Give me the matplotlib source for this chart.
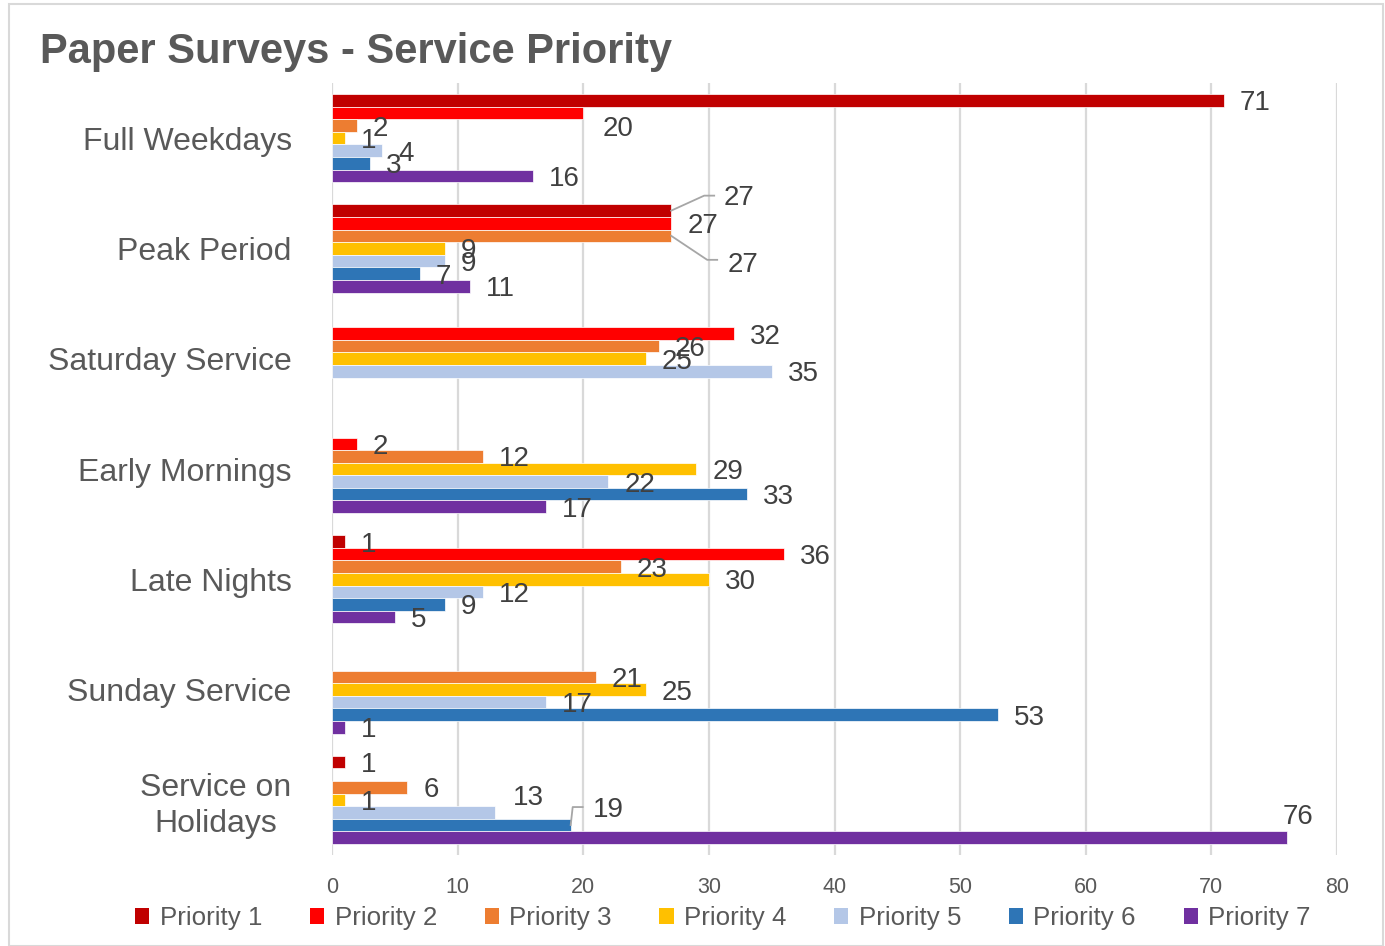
import matplotlib
matplotlib.use("Agg")
import matplotlib.pyplot as plt
from matplotlib.patches import Patch, Rectangle
from matplotlib.lines import Line2D
from matplotlib.transforms import IdentityTransform

# --- data -------------------------------------------------------------
categories = ["Full Weekdays", "Peak Period", "Saturday Service",
              "Early Mornings", "Late Nights", "Sunday Service",
              "Service on\nHolidays"]
series_names = ["Priority 1", "Priority 2", "Priority 3", "Priority 4",
                "Priority 5", "Priority 6", "Priority 7"]
priority_1 = [71, 27, 0, 0, 1, 0, 1]
priority_2 = [20, 27, 32, 2, 36, 0, 0]
priority_3 = [2, 27, 26, 12, 23, 21, 6]
priority_4 = [1, 9, 25, 29, 30, 25, 1]
priority_5 = [4, 9, 35, 22, 12, 17, 13]
priority_6 = [3, 7, 0, 33, 9, 53, 19]
priority_7 = [16, 11, 0, 17, 5, 1, 76]
x_ticks = [0, 10, 20, 30, 40, 50, 60, 70, 80]

series = [priority_1, priority_2, priority_3, priority_4,
          priority_5, priority_6, priority_7]

# --- style ------------------------------------------------------------
colors = ["#C00000", "#FF0000", "#ED7D31", "#FFC000",
          "#B4C7E7", "#2E75B6", "#7030A0"]
FONT = "Liberation Sans"
plt.rcParams["font.family"] = [FONT, "DejaVu Sans"]
TEXT_GRAY = "#595959"
LABEL_GRAY = "#404040"
GRID_GRAY = "#D9D9D9"

# label placement tweaks (pixels): left-edge gap from bar end, vertical shift (down +)
label_shift = {
    (0, 1): (19, 13),
    (1, 0): (52, -16),
    (1, 2): (56, 26),
    (6, 4): (18, -17),
    (6, 5): (22, -18),
    (6, 6): (-4, -24),
}
# leader lines for displaced labels (pixel offsets from bar end, down +)
leaders = {
    (1, 0): [(0, 0), (33, -15), (43, -15)],
    (1, 2): [(0, 0), (36, 24), (46, 24)],
    (6, 5): [(0, 0), (2, -18), (12, -18)],
}

W, H, DPI = 1385, 946, 100
fig = plt.figure(figsize=(W / DPI, H / DPI), dpi=DPI)
fig.patch.set_facecolor("white")

# chart border
fig.add_artist(Rectangle((9 / W, 0.0), (1383 - 9) / W, 1 - 4 / H,
                         transform=fig.transFigure, fill=False,
                         edgecolor=GRID_GRAY, linewidth=1.5))

ax = fig.add_axes([332 / W, 1 - 855 / H, (1337 - 332) / W, (855 - 83) / H])

n = len(series)
bar_h = 0.1142
for j, vals in enumerate(series):
    for i, v in enumerate(vals):
        if v == 0:
            continue
        y = i + (j - (n - 1) / 2) * bar_h
        ax.barh(y, v, height=bar_h, color=colors[j],
                edgecolor="white", linewidth=0.5, zorder=3)

ax.set_xlim(0, 80)
ax.set_ylim(len(categories) - 0.5, -0.5)
ax.set_xticks(x_ticks)
ax.set_xticklabels([str(t) for t in x_ticks])
ax.set_yticks(range(len(categories)))
ax.set_yticklabels(categories, fontsize=23, color=TEXT_GRAY,
                   multialignment="center", linespacing=1.25)
ax.tick_params(axis="x", length=0, pad=16, labelsize=15.5, labelcolor=TEXT_GRAY)
ax.tick_params(axis="y", length=0, pad=29)
for s in ax.spines.values():
    s.set_visible(False)
ax.grid(axis="x", color=GRID_GRAY, linewidth=1.6, zorder=0)
ax.grid(axis="y", visible=False)
ax.set_axisbelow(True)

# value labels
for j, vals in enumerate(series):
    for i, v in enumerate(vals):
        if v == 0:
            continue
        y = i + (j - (n - 1) / 2) * bar_h
        dx, dy = label_shift.get((i, j), (16, 0))
        ax.annotate(str(v), xy=(v, y), xytext=(dx, -(dy + 10)),
                    textcoords="offset pixels", ha="left", va="baseline",
                    fontsize=20, color=LABEL_GRAY, zorder=5,
                    annotation_clip=False)
        if (i, j) in leaders:
            sx, sy = ax.transData.transform((v, y))
            pts = leaders[(i, j)]
            fig.add_artist(Line2D([sx + p[0] for p in pts],
                                  [sy - p[1] for p in pts],
                                  transform=IdentityTransform(),
                                  color="#A6A6A6", linewidth=1.3))

# title
fig.text(40 / W, 1 - 63 / H, "Paper Surveys - Service Priority",
         fontsize=30, fontweight="bold", color=TEXT_GRAY, ha="left",
         va="baseline")

# legend
handles = [Patch(facecolor=c, edgecolor="none") for c in colors]
fig.legend(handles, series_names, loc="center", ncol=7,
           bbox_to_anchor=(0.522, 1 - 918 / H), frameon=False,
           fontsize=18.6, labelcolor=TEXT_GRAY, handlelength=0.55,
           handleheight=0.55, handletextpad=0.4, columnspacing=1.85,
           borderpad=0, borderaxespad=0)

fig.savefig("out.png", dpi=DPI)
